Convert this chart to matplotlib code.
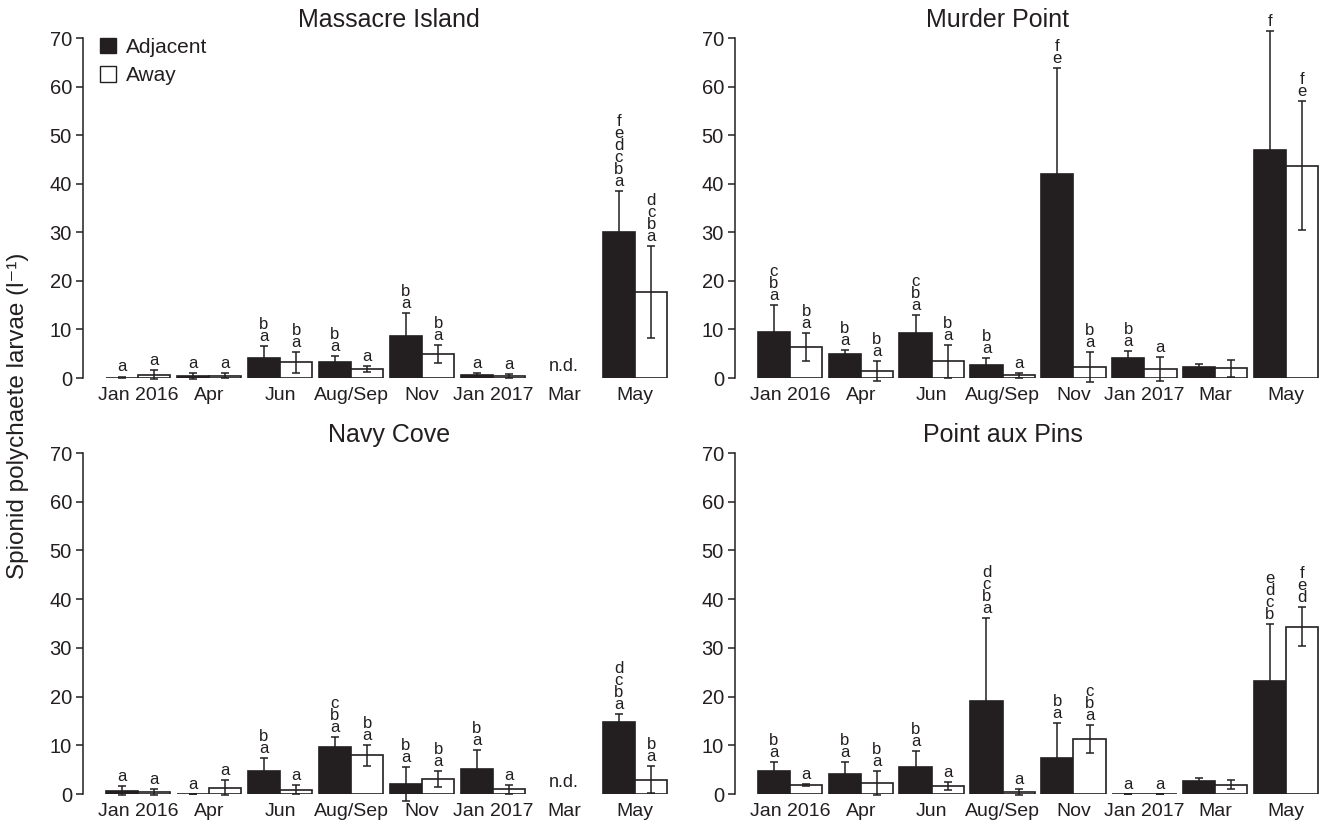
import numpy as np
import matplotlib
matplotlib.use("Agg")
import matplotlib.pyplot as plt
from matplotlib.patches import Patch

plt.rcParams['font.family'] = ['Liberation Sans Narrow', 'Liberation Sans', 'DejaVu Sans']

nan = np.nan
months = ["Jan 2016", "Apr", "Jun", "Aug/Sep", "Nov", "Jan 2017", "Mar", "May"]

# Massacre Island
mi_adj = [0.1, 0.35, 4.1, 3.35, 8.7, 0.6, nan, 30.1]
mi_adj_se = [0.2, 0.65, 2.4, 1.25, 4.7, 0.4, nan, 8.4]
mi_away = [0.7, 0.45, 3.2, 1.8, 4.9, 0.4, nan, 17.7]
mi_away_se = [0.9, 0.55, 2.1, 0.6, 1.9, 0.5, nan, 9.5]
mi_adj_let = ["a", "a", "ab", "ab", "ab", "a", "", "abcdef"]
mi_away_let = ["a", "a", "ab", "a", "ab", "a", "", "abcd"]

# Murder Point
mp_adj = [9.45, 5.0, 9.25, 2.75, 42.0, 4.2, 2.25, 46.9]
mp_adj_se = [5.65, 0.8, 3.65, 1.45, 21.9, 1.3, 0.55, 24.6]
mp_away = [6.4, 1.45, 3.4, 0.55, 2.2, 1.85, 2.05, 43.7]
mp_away_se = [2.95, 2.05, 3.3, 0.55, 3.1, 2.45, 1.75, 13.3]
mp_adj_let = ["abc", "ab", "abc", "ab", "ef", "ab", "", "f"]
mp_away_let = ["ab", "ab", "ab", "a", "ab", "a", "", "ef"]

# Navy Cove
nc_adj = [0.7, 0.0, 4.8, 9.65, 2.05, 5.05, nan, 14.7]
nc_adj_se = [1.0, 0.0, 2.65, 2.05, 3.55, 4.05, nan, 1.65]
nc_away = [0.4, 1.3, 0.9, 7.95, 3.1, 0.95, nan, 2.9]
nc_away_se = [0.55, 1.6, 0.9, 2.1, 1.7, 0.95, nan, 2.75]
nc_adj_let = ["a", "a", "ab", "abc", "ab", "ab", "", "abcd"]
nc_away_let = ["a", "a", "a", "ab", "ab", "a", "", "ab"]

# Point aux Pins
pp_adj = [4.7, 4.2, 5.5, 19.0, 7.4, 0.0, 2.6, 23.2]
pp_adj_se = [1.9, 2.3, 3.4, 17.2, 7.2, 0.0, 0.75, 11.7]
pp_away = [1.85, 2.3, 1.65, 0.4, 11.3, 0.0, 1.9, 34.3]
pp_away_se = [0.2, 2.5, 0.8, 0.55, 2.8, 0.0, 0.95, 4.0]
pp_adj_let = ["ab", "ab", "ab", "abcd", "ab", "a", "", "bcde"]
pp_away_let = ["a", "ab", "a", "a", "abc", "a", "", "def"]

panels = [
    ("Massacre Island", mi_adj, mi_adj_se, mi_away, mi_away_se, mi_adj_let, mi_away_let, True),
    ("Murder Point", mp_adj, mp_adj_se, mp_away, mp_away_se, mp_adj_let, mp_away_let, False),
    ("Navy Cove", nc_adj, nc_adj_se, nc_away, nc_away_se, nc_adj_let, nc_away_let, True),
    ("Point aux Pins", pp_adj, pp_adj_se, pp_away, pp_away_se, pp_adj_let, pp_away_let, False),
]

W, H = 1322, 822
fig = plt.figure(figsize=(W / 100, H / 100), dpi=100)
dark = '#231f20'
txt = '#231f20'

# axes rects in pixels: left, right, top(70), bottom(0)
rects = [(83, 669, 38, 378), (735, 1320, 38, 378), (83, 669, 453, 794), (735, 1320, 453, 794)]
title_x = [0.522, 0.448, 0.522, 0.458]

w = 0.455
x = np.arange(len(months))

for i, (name, adj, adj_se, away, away_se, adj_let, away_let, nd) in enumerate(panels):
    l, r, t, b = rects[i]
    ax = fig.add_axes([l / W, 1 - b / H, (r - l) / W, (b - t) / H])
    adj = np.array(adj, float); away = np.array(away, float)
    adj_se = np.array(adj_se, float); away_se = np.array(away_se, float)
    ax.bar(x - w / 2, adj, width=w, color=dark, edgecolor=dark, linewidth=1.2, label="Adjacent", zorder=2)
    ax.bar(x + w / 2, away, width=w, color='white', edgecolor=dark, linewidth=1.2, label="Away", zorder=2)
    for xs, ys, es in [(x - w / 2, adj, adj_se), (x + w / 2, away, away_se)]:
        eb = ax.errorbar(xs, ys, yerr=es, fmt='none', ecolor=dark, elinewidth=1.1,
                         capsize=3.2, capthick=1.1, zorder=3)
        for a in list(eb[1]) + list(eb[2]):
            a.set_clip_on(False)
    for xs, ys, es, lets in [(x - w / 2, adj, adj_se, adj_let), (x + w / 2, away, away_se, away_let)]:
        for xi, yi, ei, lt in zip(xs, ys, es, lets):
            if not lt or np.isnan(yi):
                continue
            top = yi + ei
            ax.annotate("\n".join(reversed(list(lt))), (xi, top), xytext=(0, 1.5),
                        textcoords='offset points', ha='center', va='bottom',
                        fontsize=12, linespacing=0.75, color=txt, annotation_clip=False)
    if nd:
        ax.text(6, 0.6, "n.d.", ha='center', va='bottom', fontsize=13, color=txt)
    ax.set_xlim(-0.776, 7.48)
    ax.set_ylim(0, 70)
    ax.set_yticks(np.arange(0, 71, 10))
    ax.set_xticks(x)
    ax.set_xticklabels(months)
    for s in ['top', 'right', 'bottom']:
        ax.spines[s].set_visible(False)
    ax.spines['left'].set_color(dark)
    ax.spines['left'].set_linewidth(1.1)
    ax.tick_params(axis='x', length=0, pad=6.5, labelsize=14, labelcolor=txt)
    ax.tick_params(axis='y', length=5, width=1.1, color=dark, pad=3, labelsize=14.5, labelcolor=txt)
    ax.text(title_x[i], 1.053, name, transform=ax.transAxes, ha='center', va='center',
            fontsize=18, color=txt)
    if i == 0:
        handles = [Patch(facecolor=dark, edgecolor=dark, linewidth=1),
                   Patch(facecolor='white', edgecolor=dark, linewidth=1)]
        ax.legend(handles, ["Adjacent", "Away"], loc='upper left', bbox_to_anchor=(0.015, 1.025),
                  frameon=False, fontsize=15, handlelength=0.75, handleheight=0.75,
                  handletextpad=0.5, labelspacing=0.45, borderaxespad=0.0, labelcolor=txt)

fig.text(18 / W, 1 - 416 / H, "Spionid polychaete larvae (l\u207b\u00b9)", rotation=90,
         ha='center', va='center', fontsize=17.5, color=txt)

fig.savefig("out.png", dpi=100)
